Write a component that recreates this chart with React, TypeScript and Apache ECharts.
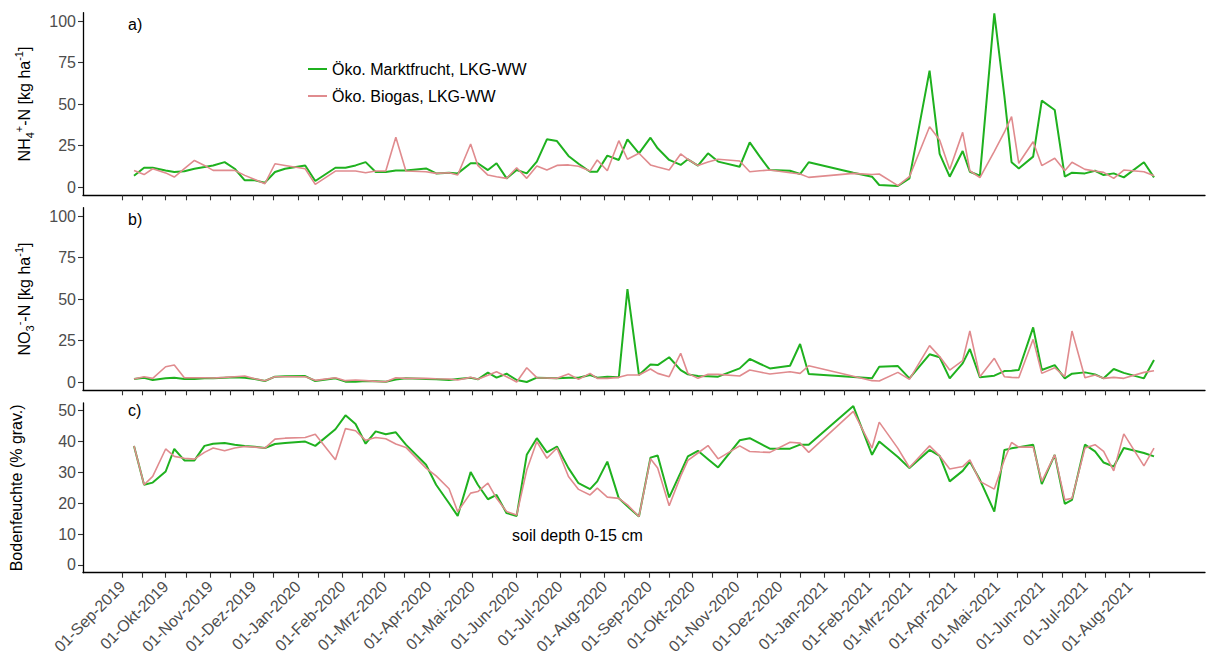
import React, { useEffect, useRef } from "react";
import * as echarts from "echarts";

const sampleDates = [
  "2019-09-09", "2019-09-16", "2019-09-22", "2019-10-01", "2019-10-07", "2019-10-14", "2019-10-21", "2019-10-28", "2019-11-03", "2019-11-11",
  "2019-11-18", "2019-11-25", "2019-12-02", "2019-12-09", "2019-12-16", "2019-12-23", "2020-01-06", "2020-01-13", "2020-01-27", "2020-02-03",
  "2020-02-10", "2020-02-17", "2020-02-24", "2020-03-02", "2020-03-09", "2020-03-16", "2020-03-30", "2020-04-06", "2020-04-15", "2020-04-21",
  "2020-04-30", "2020-05-05", "2020-05-12", "2020-05-18", "2020-05-25", "2020-06-01", "2020-06-08", "2020-06-15", "2020-06-22", "2020-06-29",
  "2020-07-07", "2020-07-14", "2020-07-22", "2020-07-27", "2020-08-03", "2020-08-11", "2020-08-17", "2020-08-25", "2020-09-02", "2020-09-07",
  "2020-09-15", "2020-09-23", "2020-09-28", "2020-10-05", "2020-10-12", "2020-10-19", "2020-11-03", "2020-11-10", "2020-11-17", "2020-11-24",
  "2020-12-08", "2020-12-15", "2020-12-21", "2021-01-21", "2021-02-03", "2021-02-08", "2021-02-21", "2021-03-01", "2021-03-15", "2021-03-22",
  "2021-03-29", "2021-04-07", "2021-04-12", "2021-04-19", "2021-04-29", "2021-05-06", "2021-05-11", "2021-05-16", "2021-05-26", "2021-06-01",
  "2021-06-10", "2021-06-17", "2021-06-22", "2021-07-01", "2021-07-08", "2021-07-14", "2021-07-21", "2021-07-28", "2021-08-11", "2021-08-18",
];

const nh4Markt = [
  6.8, 11.6, 11.6, 10, 9, 9.5, 11, 12, 13, 15,
  11, 4, 4, 2.6, 9, 11, 13, 3.6, 11.6, 11.6,
  13, 15, 9, 9, 10, 10, 11.2, 8.2, 8.6, 8.2,
  14.3, 14.3, 10.2, 14.3, 5.2, 10.2, 8.2, 15.3, 28.7, 27.7,
  18.7, 14, 9.2, 9.2, 18.9, 16.3, 28.7, 20.3, 29.7, 23.3,
  16.3, 13.3, 16.7, 12.9, 20.3, 15.3, 12.2, 26.9, 18.3, 10.2,
  9.8, 7.8, 14.9, 8.6, 6.2, 1.2, 0.6, 5.2, 70.1, 19.9,
  6.2, 21.7, 9.2, 6.8, 104.6, 54.8, 14.9, 11.2, 18.3, 52,
  46.4, 6.2, 8.6, 8.2, 9.8, 7.2, 8.2, 5.8, 14.9, 5.8,
];
const nh4Biogas = [
  10, 7.5, 11, 8.5, 6, 11, 16, 13, 10, 10,
  10, 7, 4.5, 2, 14, 13, 11, 1.6, 9.6, 9.6,
  9.6, 8.6, 9.6, 9.6, 30, 9.6, 9.2, 8.2, 8.6, 7.2,
  25.9, 13, 7.2, 6.2, 5.2, 11.6, 5.2, 12.7, 10.2, 13,
  13.3, 12.5, 9.6, 16.3, 9.8, 27.9, 16.7, 20.3, 13.3, 12,
  10.2, 19.9, 16.7, 12.9, 15, 16.7, 15.7, 9.2, 9.8, 10.2,
  8.6, 7.8, 5.8, 8.2, 7.5, 7.8, 0.8, 6.2, 36.3, 28.3,
  10.6, 32.9, 9.8, 5.6, 21.5, 33, 42.4, 14.3, 27.3, 12.9,
  17.3, 9.8, 14.9, 10.6, 9.6, 8.8, 5.2, 10.2, 9.2, 6.8,
];
const no3Markt = [
  1.8, 2.6, 1.2, 2.2, 2.6, 1.8, 1.8, 2.2, 2.2, 2.6,
  2.8, 2.6, 1.8, 0.6, 3.2, 3.4, 3.6, 0.6, 2.2, 0.2,
  0.2, 0.6, 0.4, 0.2, 1.5, 2.2, 1.8, 1.6, 1.2, 1.8,
  2.6, 1.6, 5.6, 2.6, 5, 1.2, 0, 2.6, 2.4, 2.2,
  2.6, 2.6, 4.2, 2.6, 3.2, 2.8, 56, 4.2, 10.6, 10.2,
  14.9, 7.2, 4.6, 3.6, 3.4, 3.2, 8.2, 13.9, 11, 8.2,
  9.8, 22.9, 4.8, 3, 2.2, 9.2, 9.6, 2.2, 16.7, 14.9,
  2.2, 11.2, 19.9, 2.8, 3.8, 6.6, 6.8, 7.2, 32.9, 7.2,
  10.2, 2.2, 5, 5.8, 4.6, 2.2, 7.8, 5.5, 2.2, 13.3,
];
const no3Biogas = [
  1.8, 3.2, 2.2, 9.2, 10.2, 2.6, 2.6, 2.6, 2.4, 2.8,
  3.2, 3.6, 2, 0.8, 3.2, 3.2, 3.2, 1, 2.6, 0.8,
  1.2, 0.8, 0.4, 0.2, 2.6, 2.2, 2.2, 2, 1.8, 1.2,
  2.8, 1.6, 4, 6.2, 3.2, 0, 8.6, 2.6, 2.4, 2.2,
  4.8, 1.6, 5.2, 2.2, 2.2, 2.8, 4.2, 4.2, 7.8, 5.2,
  3.2, 17.3, 5.2, 2.2, 4.6, 4.6, 3.6, 7.2, 6, 4.8,
  6.2, 5.2, 9.8, 3.5, 0.8, 0.6, 5.8, 1.6, 21.9, 15.3,
  7.2, 12.9, 30.7, 3.2, 14.3, 3.2, 2.8, 2.6, 25.7, 5.2,
  8.6, 3.2, 30.7, 2.6, 4.2, 2.2, 2.8, 2.2, 5.8, 6.8,
];
const moistMarkt = [
  38.6, 26, 26.7, 30.3, 37.6, 33.9, 33.9, 38.6, 39.3, 39.5,
  39, 38.6, 38.3, 37.9, 39.2, 39.5, 40, 38.6, 44, 48.5,
  45.7, 39.3, 43.3, 42.4, 43, 39, 32.5, 26, 20, 15.9,
  30.1, 26, 21.3, 22.7, 16.8, 15.9, 35.7, 41.1, 36.5, 38.4,
  31.4, 26.5, 24.6, 27.1, 33.5, 21.6, 19, 15.7, 34.8, 35.5,
  21.9, 30, 35.2, 37, 34.3, 31.6, 40.4, 41.1, 39.4, 37.7,
  37.7, 39, 39, 51.5, 35.7, 40, 35, 31.4, 37.3, 35.4,
  27.1, 30.5, 33.5, 27.6, 17.3, 37.3, 37.8, 38.2, 39, 26.2,
  35.7, 19.8, 21.1, 39, 36.8, 33.2, 31.9, 37.9, 36.3, 35.2,
];
const moistBiogas = [
  38.6, 26, 28.7, 37.6, 35.2, 34.6, 34.3, 36.5, 37.9, 37,
  37.9, 38.4, 38.2, 37.9, 40.8, 41.1, 41.3, 42.4, 34.1, 44.2,
  43.5, 40.4, 41.3, 40.9, 39.2, 38.1, 31.4, 28.9, 24.7, 17.3,
  23.3, 23.8, 26.5, 21.6, 17.3, 16.2, 30.8, 40, 34.6, 37.9,
  28.7, 24.5, 22.7, 24.9, 22, 21.6, 19.5, 15.7, 34.4, 31.4,
  19.2, 28.8, 33.9, 36.3, 38.7, 34.4, 38.6, 36.8, 36.6, 36.5,
  39.8, 39.5, 36.5, 49.8, 37.9, 46.3, 37.8, 31.6, 38.6, 35.4,
  31.1, 31.9, 34.1, 27.1, 24.6, 34.1, 39.7, 38.2, 38.2, 27.1,
  35.7, 21.1, 21.6, 37.9, 39, 36.8, 30.5, 42.5, 32.1, 37.9,
];

const seriesNames = ["Öko. Marktfrucht, LKG-WW", "Öko. Biogas, LKG-WW"];
const monthAbbr = ["Jan", "Feb", "Mrz", "Apr", "Mai", "Jun", "Jul", "Aug", "Sep", "Okt", "Nov", "Dez"];
const nTicks = [0, 25, 50, 75, 100];
const moistTicks = [0, 10, 20, 30, 40, 50];
const panelLabels = ["a)", "b)", "c)"];
const annotation = "soil depth 0-15 cm";
const tickStart = [2019, 8];
const tickMonths = 24;

const FONT = "'Liberation Sans', Arial, Helvetica, sans-serif";
const GREEN = "#1fb11f";
const PINK = "#e08b8e";
const DAY = 86400000;
const ORIGIN = Date.UTC(2019, 8, 1);
const LINE_ICON = "path://M0,0L19,0L19,2L0,2Z";

const toDay = (s: string) => {
  const [y, m, d] = s.split("-").map(Number);
  return (Date.UTC(y, m - 1, d) - ORIGIN) / DAY;
};
const fmtDay = (v: number) => {
  const dt = new Date(ORIGIN + Math.round(v) * DAY);
  return String(dt.getUTCDate()).padStart(2, "0") + "-" + monthAbbr[dt.getUTCMonth()] + "-" + dt.getUTCFullYear();
};

export default function App() {
  const ref = useRef<HTMLDivElement>(null);
  useEffect(() => {
    if (!ref.current) return;
    const chart = echarts.init(ref.current, null, { renderer: "svg" });

    const days = sampleDates.map(toDay);
    const span = days[days.length - 1] - days[0];
    const xMin = days[0] - 0.05 * span;
    const xMax = days[days.length - 1] + 0.05 * span;

    const monthStarts: number[] = [];
    const tickDays: number[] = [];
    for (let i = 0; i < tickMonths; i++) {
      const y = tickStart[0] + Math.floor((tickStart[1] + i) / 12);
      const m = (tickStart[1] + i) % 12;
      const d1 = (Date.UTC(y, m, 1) - ORIGIN) / DAY;
      const d15 = (Date.UTC(y, m, 15) - ORIGIN) / DAY;
      monthStarts.push(d1);
      tickDays.push(d1, d15);
    }

    const grids = [
      { left: 83, right: 2, top: 12.7, height: 182.6 },
      { left: 83, right: 2, top: 207.7, height: 182.6 },
      { left: 83, right: 2, top: 403, height: 169.7 },
    ];

    const xAxis = grids.map((_, i) => ({
      type: "value",
      gridIndex: i,
      min: xMin,
      max: xMax,
      axisLine: { show: true, onZero: false, lineStyle: { color: "#000", width: 1.3 } },
      axisTick: { show: true, length: 5, customValues: tickDays, lineStyle: { color: "#333", width: 1.1 } },
      axisLabel: {
        show: i === 2,
        customValues: monthStarts,
        rotate: 45,
        formatter: (v: number) => fmtDay(v),
        color: "#4d4d4d",
        fontSize: 16,
        fontFamily: FONT,
        margin: 11,
      },
      splitLine: { show: false },
    }));

    const rich = {
      m: { fontSize: 16, fontFamily: FONT, color: "#000", lineHeight: 22 },
      sup: { fontSize: 11, fontFamily: FONT, color: "#000", verticalAlign: "top", lineHeight: 12 },
      sub: { fontSize: 11, fontFamily: FONT, color: "#000", verticalAlign: "bottom", lineHeight: 12 },
    };

    const yNames = [
      "{m|NH}{sub|4}{sup|+}{m|-N [kg ha}{sup|-1}{m|]}",
      "{m|NO}{sub|3}{sup|-}{m|-N [kg ha}{sup|-1}{m|]}",
      "{m|Bodenfeuchte (% grav.)}",
    ];
    const yRanges = [
      [-5, 105, nTicks],
      [-5, 105, nTicks],
      [-2.5, 52.5, moistTicks],
    ];

    const yAxis = grids.map((_, i) => ({
      type: "value",
      gridIndex: i,
      min: yRanges[i][0],
      max: yRanges[i][1],
      name: yNames[i],
      nameLocation: "middle",
      nameRotate: 90,
      nameGap: i === 2 ? 56 : 48,
      nameTextStyle: { rich, fontFamily: FONT, fontSize: 16, color: "#000" },
      axisLine: { show: true, onZero: false, lineStyle: { color: "#000", width: 1.3 } },
      axisTick: { show: true, length: 5, customValues: yRanges[i][2], lineStyle: { color: "#333", width: 1.1 } },
      axisLabel: {
        customValues: yRanges[i][2],
        color: "#4d4d4d",
        fontSize: 16,
        fontFamily: FONT,
        margin: 7,
      },
      splitLine: { show: false },
    }));

    const panels = [
      [nh4Markt, nh4Biogas],
      [no3Markt, no3Biogas],
      [moistMarkt, moistBiogas],
    ];
    const series: any[] = [];
    panels.forEach((pair, i) => {
      pair.forEach((vals, k) => {
        series.push({
          type: "line",
          name: seriesNames[k],
          xAxisIndex: i,
          yAxisIndex: i,
          data: vals.map((v, j) => [days[j], v]),
          symbol: "none",
          lineStyle: { color: k === 0 ? GREEN : PINK, width: k === 0 ? 2 : 1.6 },
          itemStyle: { color: k === 0 ? GREEN : PINK },
          z: 2 + k,
        });
      });
    });

    const labelTops = [16, 211, 402];
    const graphic: any[] = panelLabels.map((t, i) => ({
      type: "text",
      left: 128,
      top: labelTops[i],
      style: { text: t, font: `16px ${FONT}`, fill: "#000" },
    }));
    graphic.push({
      type: "text",
      left: 512,
      top: 527,
      style: { text: annotation, font: `16px ${FONT}`, fill: "#000" },
    });

    chart.setOption({
      animation: false,
      backgroundColor: "#fff",
      grid: grids,
      xAxis,
      yAxis,
      series,
      legend: {
        data: seriesNames.map((n) => ({ name: n, icon: LINE_ICON })),
        orient: "vertical",
        left: 303,
        top: 56,
        itemWidth: 19,
        itemHeight: 14,
        itemGap: 11,
        textStyle: { fontSize: 16, color: "#000", fontFamily: FONT },
      },
      graphic,
    });
    return () => chart.dispose();
  }, []);

  return (
    <div
      ref={ref}
      style={{ position: "absolute", left: 0, top: 0, width: 1207, height: 666, background: "#fff" }}
    />
  );
}
